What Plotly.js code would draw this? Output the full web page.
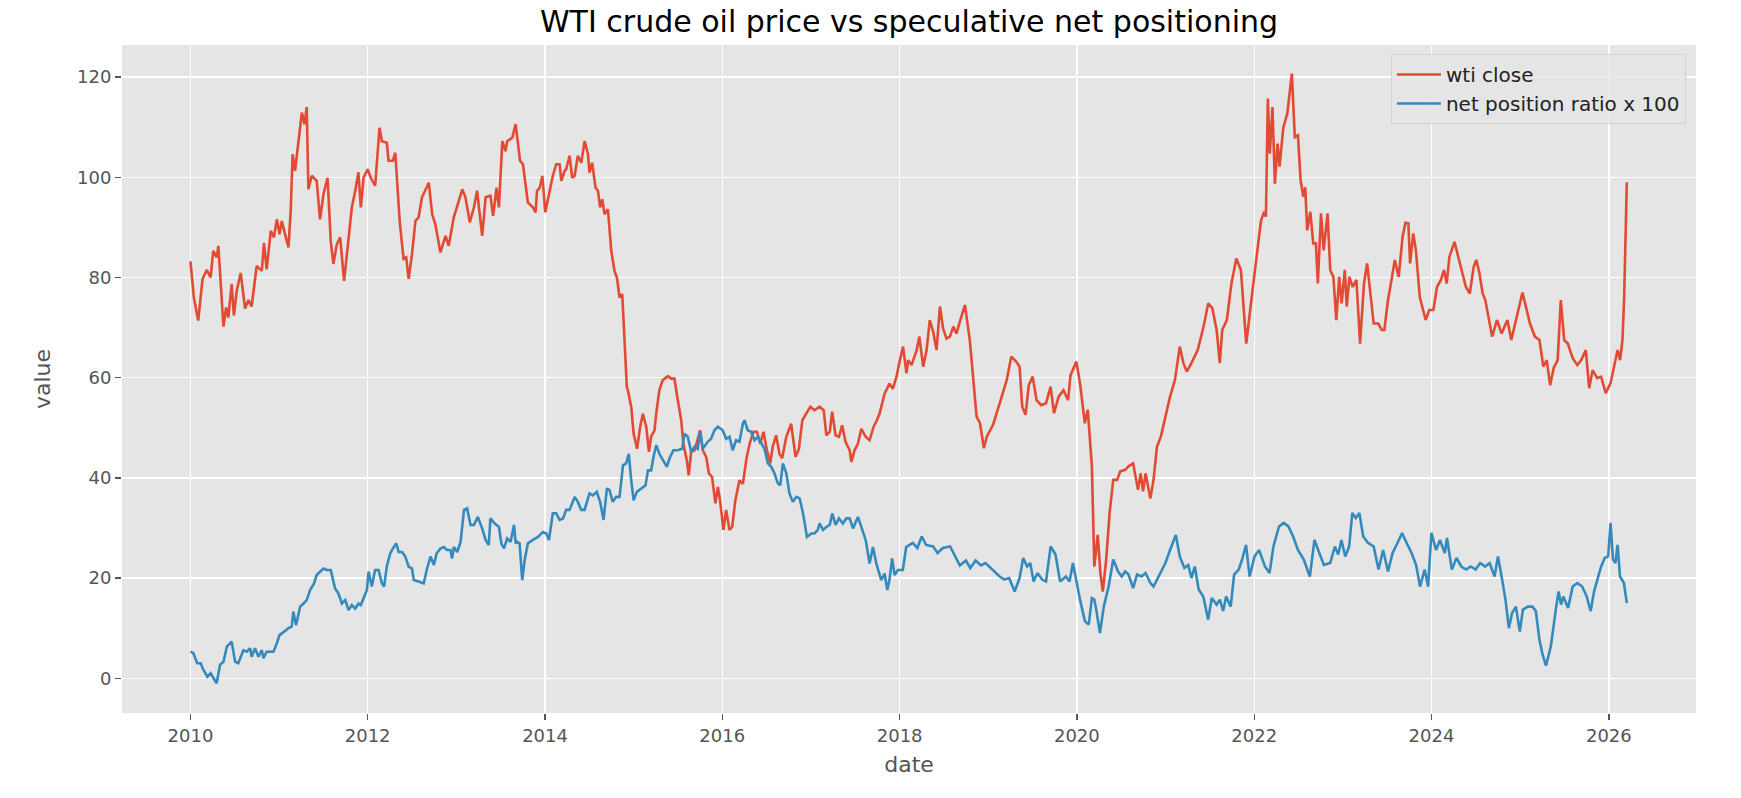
<!DOCTYPE html>
<html>
<head>
<meta charset="utf-8">
<script src="https://cdn.plot.ly/plotly-3.0.1.min.js"></script>
<style>
  html, body { margin: 0; padding: 0; background: #ffffff; }
  #chart { width: 1741px; height: 798px; }
</style>
</head>
<body>
<div id="chart"></div>
<script>
// ---- data (decimal year, value) ----
const wtiYear = [
  2010.000,2010.041,2010.090,2010.139,2010.185,2010.230,2010.260,2010.298,2010.316,2010.335,
  2010.373,2010.403,2010.429,2010.467,2010.493,2010.524,2010.569,2010.618,2010.655,2010.693,
  2010.712,2010.750,2010.806,2010.832,2010.863,2010.908,2010.945,2010.976,2011.006,2011.032,
  2011.070,2011.107,2011.134,2011.156,2011.183,2011.220,2011.258,2011.288,2011.315,2011.333,
  2011.371,2011.427,2011.465,2011.503,2011.548,2011.586,2011.616,2011.653,2011.691,2011.736,
  2011.785,2011.823,2011.861,2011.898,2011.925,2011.955,2012.000,2012.038,2012.087,2012.136,
  2012.162,2012.218,2012.237,2012.286,2012.313,2012.362,2012.407,2012.437,2012.463,2012.501,
  2012.539,2012.576,2012.614,2012.689,2012.727,2012.765,2012.821,2012.878,2012.915,2012.972,
  2013.066,2013.104,2013.153,2013.198,2013.235,2013.292,2013.330,2013.386,2013.416,2013.454,
  2013.480,2013.518,2013.556,2013.574,2013.631,2013.669,2013.718,2013.752,2013.808,2013.865,
  2013.895,2013.910,2013.940,2013.970,2014.004,2014.053,2014.090,2014.128,2014.165,2014.184,
  2014.222,2014.241,2014.278,2014.308,2014.335,2014.372,2014.410,2014.447,2014.485,2014.504,
  2014.534,2014.571,2014.598,2014.624,2014.647,2014.673,2014.711,2014.748,2014.786,2014.812,
  2014.842,2014.872,2014.898,2014.925,2014.936,2014.974,2015.000,2015.041,2015.075,2015.105,
  2015.143,2015.173,2015.199,2015.237,2015.256,2015.293,2015.331,2015.387,2015.425,2015.462,
  2015.500,2015.538,2015.564,2015.602,2015.624,2015.650,2015.688,2015.726,2015.752,2015.782,
  2015.820,2015.850,2015.887,2015.925,2015.951,2015.977,2016.015,2016.045,2016.083,2016.113,
  2016.150,2016.195,2016.233,2016.278,2016.316,2016.353,2016.391,2016.429,2016.466,2016.504,
  2016.541,2016.571,2016.609,2016.647,2016.677,2016.722,2016.778,2016.827,2016.865,2016.902,
  2016.955,2016.992,2017.041,2017.098,2017.143,2017.173,2017.211,2017.241,2017.278,2017.316,
  2017.353,2017.391,2017.436,2017.455,2017.492,2017.530,2017.568,2017.617,2017.662,2017.707,
  2017.744,2017.774,2017.831,2017.887,2017.925,2017.966,2018.004,2018.041,2018.079,2018.098,
  2018.135,2018.192,2018.222,2018.267,2018.305,2018.342,2018.380,2018.418,2018.455,2018.493,
  2018.531,2018.568,2018.606,2018.643,2018.681,2018.738,2018.794,2018.832,2018.869,2018.907,
  2018.952,2018.986,2019.057,2019.133,2019.209,2019.263,2019.316,2019.354,2019.386,2019.423,
  2019.460,2019.503,2019.546,2019.599,2019.653,2019.706,2019.744,2019.797,2019.850,2019.904,
  2019.931,2019.995,2020.037,2020.091,2020.123,2020.171,2020.198,2020.235,2020.267,2020.294,
  2020.331,2020.369,2020.411,2020.454,2020.491,2020.545,2020.582,2020.636,2020.689,2020.721,
  2020.748,2020.775,2020.828,2020.865,2020.903,2020.946,2020.999,2021.052,2021.106,2021.159,
  2021.202,2021.239,2021.293,2021.362,2021.400,2021.437,2021.480,2021.527,2021.576,2021.613,
  2021.640,2021.693,2021.744,2021.800,2021.852,2021.910,2021.983,2022.026,2022.078,2022.113,
  2022.134,2022.156,2022.178,2022.208,2022.234,2022.265,2022.286,2022.330,2022.373,2022.425,
  2022.460,2022.495,2022.525,2022.555,2022.577,2022.599,2022.633,2022.668,2022.698,2022.720,
  2022.755,2022.785,2022.829,2022.859,2022.894,2022.928,2022.959,2022.989,2023.024,2023.046,
  2023.076,2023.111,2023.154,2023.195,2023.241,2023.275,2023.306,2023.349,2023.400,2023.440,
  2023.470,2023.510,2023.544,2023.588,2023.631,2023.675,2023.709,2023.740,2023.761,2023.796,
  2023.826,2023.870,2023.935,2023.978,2024.022,2024.065,2024.108,2024.143,2024.174,2024.204,
  2024.260,2024.304,2024.347,2024.390,2024.434,2024.477,2024.508,2024.542,2024.577,2024.607,
  2024.685,2024.738,2024.792,2024.856,2024.899,2024.952,2025.025,2025.112,2025.166,2025.219,
  2025.262,2025.299,2025.337,2025.379,2025.422,2025.459,2025.496,2025.539,2025.593,2025.646,
  2025.689,2025.742,2025.780,2025.817,2025.871,2025.913,2025.967,2026.020,2026.063,2026.101,
  2026.127,2026.154,2026.175,2026.205
];
const wtiClose = [
  83.2,76.0,71.4,79.7,81.5,80.0,85.3,84.0,86.3,80.0,
  70.2,74.0,72.0,78.7,72.4,77.4,80.9,73.8,75.5,74.2,
  76.7,82.3,81.3,86.9,81.6,89.3,88.0,91.6,88.6,91.3,
  88.6,86.0,93.3,104.6,101.3,106.9,112.9,110.6,114.0,97.6,
  100.3,99.3,91.6,96.6,99.9,87.3,82.7,86.6,88.0,79.3,
  87.3,94.0,97.3,101.0,94.0,99.9,101.6,99.9,98.3,109.9,
  107.2,106.9,103.3,103.3,104.9,91.3,83.7,84.0,79.7,84.7,
  91.3,92.0,96.0,98.9,92.6,90.6,85.0,88.3,86.3,92.0,
  97.6,96.0,91.0,94.0,97.3,88.3,96.0,96.3,92.3,97.9,
  94.0,107.2,105.2,107.2,107.9,110.6,103.3,102.6,95.0,94.0,
  93.0,97.3,97.9,100.3,93.0,97.3,100.3,102.6,102.6,99.3,
  101.3,101.6,104.3,99.9,100.3,104.3,102.9,107.2,104.6,100.9,
  102.9,97.9,97.3,94.0,95.6,92.6,93.6,85.3,81.3,80.0,
  76.0,76.7,66.4,58.1,57.5,54.2,48.8,45.8,50.2,52.8,
  50.2,45.2,48.2,49.5,52.8,57.5,59.5,60.3,59.8,59.8,
  55.5,51.5,46.8,43.5,40.5,45.2,45.5,47.5,49.5,45.5,
  44.2,40.9,40.2,34.9,38.2,35.5,29.6,33.6,29.6,30.2,
  35.5,39.5,38.8,44.2,47.2,49.2,49.2,46.8,49.2,45.5,
  42.9,46.2,48.5,44.8,43.9,48.2,50.8,44.2,45.8,51.5,
  53.2,54.2,53.5,54.2,53.5,48.5,49.2,53.2,48.5,48.2,
  50.5,47.2,45.5,43.2,45.5,46.8,49.8,48.2,47.5,50.2,
  51.5,52.8,56.8,58.8,57.8,60.2,63.5,66.2,60.9,63.5,
  62.5,65.5,68.2,62.2,65.5,71.5,69.2,65.5,74.2,69.8,
  67.8,68.2,70.2,68.8,71.2,74.5,67.5,59.5,52.2,50.9,
  45.9,48.2,50.6,55.0,59.5,64.2,63.2,62.2,54.2,52.6,
  58.5,60.2,55.5,54.5,54.9,58.2,52.9,56.2,57.5,55.5,
  60.5,63.2,58.9,50.9,53.6,42.3,22.3,28.6,21.0,17.3,
  23.7,33.0,39.6,39.6,41.3,41.6,42.3,42.9,37.6,40.9,
  37.3,40.9,35.9,39.6,46.2,48.2,52.2,56.2,59.5,66.2,
  62.9,61.2,62.9,65.5,68.2,70.8,74.8,73.9,69.5,62.9,
  69.5,71.5,78.8,83.8,81.5,66.8,77.5,83.5,91.4,93.1,
  92.1,115.7,104.7,114.0,98.7,106.7,102.1,110.0,112.7,120.7,
  108.0,108.4,99.4,96.1,98.0,89.4,93.1,86.8,86.8,78.8,
  92.8,85.4,92.8,81.5,80.1,71.5,80.1,74.8,81.5,74.2,
  80.1,78.1,79.5,66.8,78.8,82.8,77.5,70.8,70.8,69.5,
  69.5,75.5,78.8,83.5,80.1,88.1,90.9,90.8,82.8,88.8,
  85.4,76.1,71.5,73.5,73.5,78.1,79.5,81.5,78.8,84.1,
  87.1,84.1,81.5,78.1,76.8,82.1,83.5,80.8,76.8,75.5,
  68.2,71.5,68.8,71.5,67.5,71.5,77.0,70.8,68.2,67.5,
  62.2,63.5,58.5,62.0,63.5,75.5,67.5,66.8,63.9,62.5,
  63.5,65.5,57.9,61.5,59.9,60.2,56.9,58.9,62.2,65.5,
  63.5,67.5,76.0,99.0
];

const netYear = [
  2010.000,2010.034,2010.079,2010.117,2010.147,2010.192,2010.230,2010.260,2010.298,2010.335,
  2010.373,2010.411,2010.467,2010.505,2010.542,2010.599,2010.637,2010.674,2010.693,2010.731,
  2010.768,2010.806,2010.825,2010.863,2010.938,2010.976,2011.006,2011.058,2011.107,2011.145,
  2011.164,2011.194,2011.239,2011.277,2011.315,2011.352,2011.397,2011.427,2011.465,2011.503,
  2011.540,2011.586,2011.635,2011.672,2011.710,2011.748,2011.785,2011.823,2011.861,2011.898,
  2011.925,2011.962,2011.992,2012.011,2012.049,2012.087,2012.124,2012.162,2012.188,2012.218,
  2012.256,2012.286,2012.324,2012.350,2012.388,2012.426,2012.463,2012.501,2012.520,2012.576,
  2012.633,2012.670,2012.708,2012.746,2012.776,2012.821,2012.859,2012.896,2012.934,2012.953,
  2012.972,2013.009,2013.047,2013.085,2013.122,2013.160,2013.198,2013.243,2013.292,2013.330,
  2013.367,2013.386,2013.431,2013.480,2013.507,2013.537,2013.574,2013.612,2013.650,2013.669,
  2013.690,2013.714,2013.744,2013.771,2013.808,2013.865,2013.921,2013.977,2014.015,2014.045,
  2014.090,2014.128,2014.165,2014.203,2014.241,2014.278,2014.335,2014.372,2014.410,2014.447,
  2014.504,2014.541,2014.586,2014.624,2014.662,2014.699,2014.729,2014.767,2014.805,2014.842,
  2014.880,2014.917,2014.947,2014.974,2015.000,2015.038,2015.086,2015.135,2015.162,2015.199,
  2015.226,2015.256,2015.293,2015.338,2015.376,2015.406,2015.451,2015.500,2015.549,2015.575,
  2015.613,2015.650,2015.688,2015.726,2015.752,2015.782,2015.838,2015.876,2015.914,2015.951,
  2016.008,2016.045,2016.083,2016.120,2016.158,2016.195,2016.233,2016.252,2016.289,2016.327,
  2016.365,2016.402,2016.440,2016.477,2016.515,2016.553,2016.590,2016.628,2016.654,2016.684,
  2016.722,2016.759,2016.797,2016.835,2016.872,2016.910,2016.955,2017.004,2017.041,2017.079,
  2017.098,2017.135,2017.173,2017.211,2017.241,2017.278,2017.316,2017.361,2017.398,2017.436,
  2017.474,2017.530,2017.568,2017.617,2017.662,2017.699,2017.737,2017.793,2017.831,2017.861,
  2017.887,2017.917,2017.944,2017.981,2018.038,2018.075,2018.113,2018.150,2018.200,2018.250,
  2018.300,2018.380,2018.430,2018.490,2018.570,2018.620,2018.680,2018.750,2018.800,2018.860,
  2018.920,2018.970,2019.129,2019.183,2019.236,2019.300,2019.354,2019.396,2019.439,2019.476,
  2019.514,2019.557,2019.610,2019.653,2019.706,2019.760,2019.813,2019.877,2019.920,2019.957,
  2019.995,2020.037,2020.091,2020.134,2020.171,2020.198,2020.224,2020.262,2020.304,2020.358,
  2020.411,2020.465,2020.507,2020.545,2020.582,2020.636,2020.678,2020.732,2020.775,2020.828,
  2020.865,2020.903,2020.946,2020.999,2021.052,2021.116,2021.159,2021.213,2021.255,2021.293,
  2021.330,2021.373,2021.426,2021.480,2021.522,2021.576,2021.613,2021.651,2021.683,2021.736,
  2021.774,2021.827,2021.864,2021.907,2021.950,2022.003,2022.057,2022.121,2022.175,2022.217,
  2022.281,2022.334,2022.388,2022.441,2022.495,2022.559,2022.628,2022.682,2022.735,2022.788,
  2022.858,2022.911,2022.949,2022.986,2023.029,2023.072,2023.109,2023.146,2023.189,2023.232,
  2023.285,2023.349,2023.403,2023.456,2023.510,2023.563,2023.617,2023.670,2023.723,2023.777,
  2023.830,2023.873,2023.926,2023.964,2024.001,2024.054,2024.097,2024.151,2024.177,2024.231,
  2024.284,2024.338,2024.391,2024.444,2024.498,2024.551,2024.605,2024.658,2024.712,2024.749,
  2024.792,2024.835,2024.872,2024.909,2024.952,2024.995,2025.032,2025.085,2025.139,2025.176,
  2025.219,2025.254,2025.291,2025.346,2025.406,2025.433,2025.462,2025.486,2025.540,2025.593,
  2025.646,2025.700,2025.753,2025.796,2025.833,2025.871,2025.913,2025.956,2025.994,2026.020,
  2026.047,2026.074,2026.100,2026.127,2026.170,2026.205
];
const netRatio = [
  5.3,5.0,3.0,3.0,1.7,0.3,1.0,0.0,-1.0,2.7,
  3.3,6.3,7.3,3.3,3.0,5.6,5.3,6.0,4.3,6.0,
  4.3,5.6,4.0,5.3,5.3,7.0,8.6,9.3,10.0,10.3,
  13.3,10.6,14.3,14.9,15.6,17.6,18.9,20.6,21.3,21.9,
  21.6,21.6,17.9,16.9,14.9,15.6,13.6,14.6,13.9,14.9,
  14.6,16.3,17.6,21.3,18.3,21.6,21.6,18.9,18.3,22.3,
  24.9,25.9,26.9,25.2,25.2,24.3,22.3,21.9,19.6,19.3,
  18.9,21.9,24.3,22.6,24.9,25.9,26.2,25.6,25.6,23.9,
  26.2,25.2,27.2,33.6,33.9,30.6,30.6,32.2,29.9,27.6,
  26.6,31.9,30.9,30.2,26.9,25.9,27.9,27.2,30.6,26.9,
  27.2,26.9,19.6,23.6,26.9,27.6,28.2,29.2,28.9,27.6,
  32.9,32.9,31.6,31.9,33.6,33.6,36.2,35.2,33.6,33.6,
  36.9,36.5,37.2,35.2,31.6,37.9,37.5,35.2,36.2,36.2,
  42.5,42.9,44.8,39.5,35.5,37.2,37.9,38.5,41.5,41.5,
  44.2,46.5,44.8,43.2,42.2,43.9,45.5,45.5,45.8,48.8,
  48.2,45.2,46.2,45.8,49.2,45.8,47.2,47.8,49.5,50.2,
  49.5,47.8,48.2,45.5,47.5,47.2,50.8,51.5,49.5,49.2,
  47.5,48.2,46.8,45.8,42.9,42.2,40.9,38.9,38.5,42.9,
  40.9,36.9,35.2,36.2,35.9,32.9,28.2,28.9,28.9,29.6,
  30.9,29.6,30.2,30.6,32.9,30.6,31.9,30.9,31.9,31.9,
  29.9,32.2,30.2,27.6,22.9,26.2,22.9,19.6,20.9,17.6,
  19.6,23.9,20.6,21.6,21.6,26.2,26.6,27.0,26.0,28.3,
  26.6,26.3,25.0,26.0,26.3,24.5,22.5,23.5,22.0,23.5,
  22.5,23.0,20.3,19.7,20.0,17.3,20.0,24.0,22.3,23.0,
  19.3,21.0,19.7,19.3,26.3,24.7,19.3,20.3,19.3,23.0,
  19.3,15.7,11.4,10.7,16.0,15.7,13.4,9.0,14.3,18.3,
  23.7,21.3,20.3,21.3,20.7,18.0,20.7,20.3,21.0,19.0,
  18.3,19.7,21.0,23.0,25.6,28.6,24.3,22.0,22.6,20.0,
  22.3,17.7,16.3,11.7,16.0,14.7,15.7,13.4,16.3,14.3,
  20.7,21.7,23.7,26.6,20.3,24.3,25.6,22.3,21.0,26.3,
  30.3,31.0,30.3,28.3,25.6,23.7,20.3,27.6,25.0,22.6,
  23.0,26.3,24.7,27.6,24.3,26.3,33.0,32.0,33.0,28.3,
  27.0,26.3,21.7,25.6,21.3,25.0,27.0,29.0,27.0,25.0,
  22.6,18.3,21.7,18.3,29.0,25.6,27.6,25.0,28.0,21.7,
  24.0,22.3,21.7,22.3,21.7,23.0,22.3,23.0,20.3,24.3,
  20.3,15.7,10.0,13.0,14.3,9.3,13.7,14.3,14.3,13.4,
  7.7,4.7,2.5,6.4,14.3,17.3,14.7,16.3,14.0,18.3,
  19.0,18.3,16.3,13.4,17.3,19.7,22.3,24.0,24.3,31.0,
  23.7,23.0,26.6,20.3,19.0,15.0
];

const seriesNames = ["wti close", "net position ratio x 100"];
const xTickYears = [2010, 2012, 2014, 2016, 2018, 2020, 2022, 2024, 2026];
const yTickValues = [0, 20, 40, 60, 80, 100, 120];

// decimal year -> ISO date
function toDate(y) {
  const yr = Math.floor(y);
  const a = Date.UTC(yr, 0, 1), b = Date.UTC(yr + 1, 0, 1);
  return new Date(a + (y - yr) * (b - a)).toISOString().slice(0, 10);
}

const font = "DejaVu Sans, Liberation Sans, sans-serif";

const traces = [
  {
    x: wtiYear.map(toDate), y: wtiClose, name: seriesNames[0],
    type: "scatter", mode: "lines",
    line: { color: "#E24A33", width: 2.6 }
  },
  {
    x: netYear.map(toDate), y: netRatio, name: seriesNames[1],
    type: "scatter", mode: "lines",
    line: { color: "#348ABD", width: 2.6 }
  }
];

const layout = {
  width: 1741, height: 798,
  margin: { l: 122, r: 45, t: 45, b: 85, pad: 0 },
  paper_bgcolor: "#ffffff",
  plot_bgcolor: "#E5E5E5",
  font: { family: font, color: "#555555", size: 18 },
  title: {
    text: "WTI crude oil price vs speculative net positioning",
    font: { family: font, size: 30, color: "#000000" },
    xref: "paper", x: 0.5, xanchor: "center",
    yref: "container", y: 1 - 21 / 798, yanchor: "middle"
  },
  xaxis: {
    type: "date",
    range: [toDate(2009.230), toDate(2026.985)],
    tickvals: xTickYears.map(y => y + "-01-01"),
    ticktext: xTickYears.map(String),
    ticks: "outside", ticklen: 6, tickwidth: 1.4, tickcolor: "#555555",
    tickfont: { family: font, size: 18, color: "#555555" },
    showgrid: true, gridcolor: "#ffffff", gridwidth: 1.4,
    zeroline: false, showline: false,
    title: { text: "date", font: { family: font, size: 22, color: "#555555" }, standoff: 12 }
  },
  yaxis: {
    range: [-6.94, 126.4],
    tickvals: yTickValues,
    ticktext: yTickValues.map(String),
    ticks: "outside", ticklen: 6, tickwidth: 1.4, tickcolor: "#555555",
    tickfont: { family: font, size: 18, color: "#555555" },
    showgrid: true, gridcolor: "#ffffff", gridwidth: 1.4,
    zeroline: false, showline: false,
    title: { text: "value", font: { family: font, size: 22, color: "#555555" }, standoff: 20 }
  },
  legend: {
    x: 0.9936, xanchor: "right", y: 0.9865, yanchor: "top",
    bgcolor: "rgba(229,229,229,0.8)", bordercolor: "#D2D2D2", borderwidth: 1,
    font: { family: font, size: 20, color: "#222222" },
    itemwidth: 44,
    tracegroupgap: 4
  },
  showlegend: true
};

Plotly.newPlot("chart", traces, layout, { staticPlot: true, displayModeBar: false });
</script>
</body>
</html>
